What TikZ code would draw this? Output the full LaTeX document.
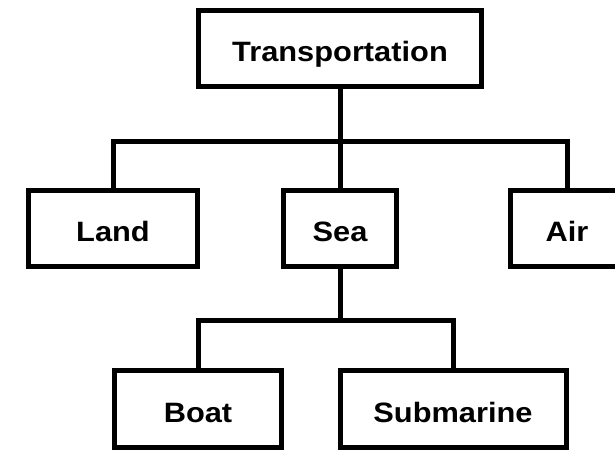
\documentclass[tikz,border=0pt]{standalone}
\usepackage{fontspec}
\setmainfont{Liberation Sans}
\usepackage{graphicx}
\begin{document}
\begin{tikzpicture}[x=1pt,y=-1pt,
  box/.style={draw=black, line width=5pt, fill=white, inner sep=0pt,
    minimum height=76pt, text height=26pt, text depth=0pt,
    font=\fontsize{28}{30}\selectfont\bfseries},
  link/.style={draw=black, line width=5pt, line cap=rect}]
\useasboundingbox (0,0) rectangle (615,451);
\node[box, minimum width=283pt] (T) at (340,48.5) {\scalebox{1.1}[1]{Transportation}};
\node[box, minimum width=169pt] (L) at (113,228.5) {\scalebox{1.1}[1]{Land}};
\node[box, minimum width=113pt] (S) at (340,228.5) {\scalebox{1.1}[1]{Sea}};
\node[box, minimum width=113pt] (A) at (567,228.5) {\scalebox{1.1}[1]{Air}};
\node[box, minimum width=167pt, minimum height=77pt] (B) at (198,409) {\scalebox{1.1}[1]{Boat}};
\node[box, minimum width=226pt, minimum height=77pt] (M) at (453,409) {\scalebox{1.1}[1]{Submarine}};
\coordinate (j1) at (340,141);
\coordinate (j2) at (340,320);
\draw[link] (T.south) -- (j1);
\draw[link] (L.north) |- (j1) -| (A.north);
\draw[link] (j1) -- (S.north);
\draw[link] (S.south) -- (j2);
\draw[link] (B.north) |- (j2) -| (M.north);
\end{tikzpicture}
\end{document}
